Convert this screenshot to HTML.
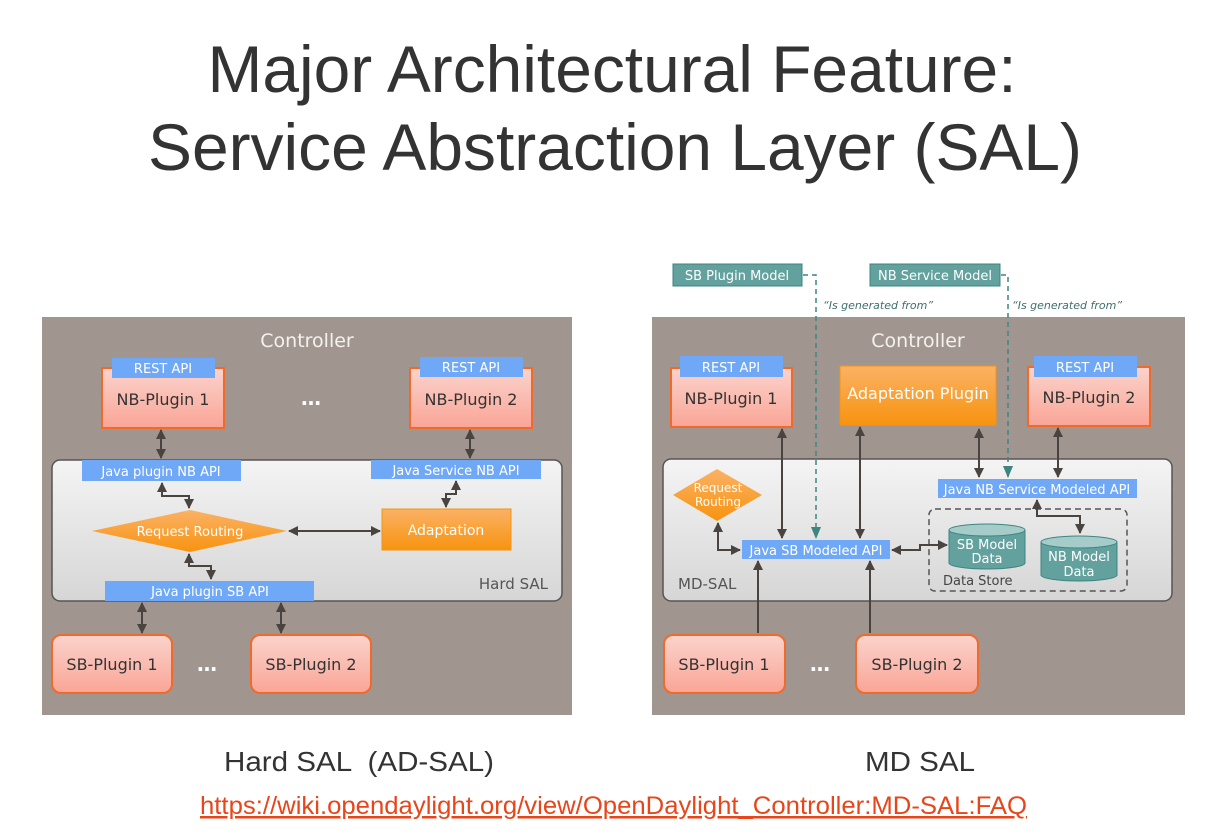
<!DOCTYPE html>
<html><head><meta charset="utf-8"><style>
html,body{margin:0;padding:0;background:#fff;}
svg{display:block;font-family:"Liberation Sans",sans-serif;}
.t{font-family:"DejaVu Sans","Liberation Sans",sans-serif;}
</style></head><body>
<svg width="1218" height="837" viewBox="0 0 1218 837" xmlns="http://www.w3.org/2000/svg">
<defs>
<linearGradient id="pink" x1="0" y1="0" x2="0" y2="1"><stop offset="0" stop-color="#fbd3cc"/><stop offset="1" stop-color="#f9a596"/></linearGradient>
<linearGradient id="org" x1="0" y1="0" x2="0" y2="1"><stop offset="0" stop-color="#fbb265"/><stop offset="1" stop-color="#f7930f"/></linearGradient>
<linearGradient id="sal" x1="0" y1="0" x2="0" y2="1"><stop offset="0" stop-color="#f4f4f4"/><stop offset="1" stop-color="#d6d6d6"/></linearGradient>
<marker id="ah" markerWidth="10" markerHeight="10" refX="9" refY="5" orient="auto-start-reverse" markerUnits="userSpaceOnUse"><path d="M0,0 L10,5 L0,10 z" fill="#4a4440"/></marker>
<marker id="th" markerWidth="12" markerHeight="10" refX="11" refY="5" orient="auto" markerUnits="userSpaceOnUse"><path d="M0,0 L12,5 L0,10 z" fill="#3e8580"/></marker>
</defs>

<text x="612" y="92" text-anchor="middle" font-size="66" fill="#333" textLength="809" lengthAdjust="spacingAndGlyphs">Major Architectural Feature:</text>
<text x="615" y="170" text-anchor="middle" font-size="66" fill="#333" textLength="934" lengthAdjust="spacingAndGlyphs">Service Abstraction Layer (SAL)</text>

<!-- LEFT PANEL -->
<rect x="42" y="317" width="530" height="398" fill="#a0968f"/>
<text class="t" x="307" y="347" text-anchor="middle" font-size="19" fill="#f4f1ee">Controller</text>
<rect x="52" y="460" width="510" height="141" rx="8" fill="url(#sal)" stroke="#555" stroke-width="1.5"/>
<g class="t" font-size="16">
<rect x="102" y="368" width="122" height="60" fill="url(#pink)" stroke="#f06a2b" stroke-width="2"/>
<rect x="112" y="358" width="103" height="20" fill="#6fa8f7"/>
<text x="163" y="373" text-anchor="middle" font-size="13" fill="#fff">REST API</text>
<text x="163" y="405" text-anchor="middle" fill="#333">NB-Plugin 1</text>
<rect x="410" y="368" width="122" height="60" fill="url(#pink)" stroke="#f06a2b" stroke-width="2"/>
<rect x="420" y="357" width="103" height="20" fill="#6fa8f7"/>
<text x="471" y="372" text-anchor="middle" font-size="13" fill="#fff">REST API</text>
<text x="471" y="405" text-anchor="middle" fill="#333">NB-Plugin 2</text>
<text x="311" y="405" text-anchor="middle" font-size="20" fill="#fff" font-weight="bold">…</text>

<rect x="82" y="460" width="159" height="21" fill="#6fa8f7"/>
<text x="161" y="476" text-anchor="middle" font-size="13" fill="#fff">Java plugin NB API</text>
<rect x="371" y="460" width="170" height="19" fill="#6fa8f7"/>
<text x="456" y="475" text-anchor="middle" font-size="13" fill="#fff">Java Service NB API</text>
<polygon points="92,531 190,510 287,531 190,552" fill="url(#org)"/>
<text x="190" y="536" text-anchor="middle" font-size="13" fill="#fff">Request Routing</text>
<rect x="382" y="509" width="129" height="41" fill="url(#org)" stroke="#f7930f"/>
<text x="446" y="535" text-anchor="middle" font-size="14" fill="#fff">Adaptation</text>
<text x="548" y="589" text-anchor="end" font-size="15" fill="#555">Hard SAL</text>
<rect x="105" y="581" width="209" height="20" fill="#6fa8f7"/>
<text x="210" y="596" text-anchor="middle" font-size="13" fill="#fff">Java plugin SB API</text>

<rect x="52" y="635" width="120" height="58" rx="9" fill="url(#pink)" stroke="#f06a2b" stroke-width="2"/>
<text x="112" y="670" text-anchor="middle" fill="#333">SB-Plugin 1</text>
<rect x="251" y="635" width="120" height="58" rx="9" fill="url(#pink)" stroke="#f06a2b" stroke-width="2"/>
<text x="311" y="670" text-anchor="middle" fill="#333">SB-Plugin 2</text>
<text x="207" y="671" text-anchor="middle" font-size="20" fill="#fff" font-weight="bold">…</text>
</g>
<g stroke="#4a4440" stroke-width="2" fill="none">
<line x1="161" y1="430" x2="161" y2="458" marker-start="url(#ah)" marker-end="url(#ah)"/>
<line x1="470" y1="430" x2="470" y2="458" marker-start="url(#ah)" marker-end="url(#ah)"/>
<line x1="142" y1="603" x2="142" y2="633" marker-start="url(#ah)" marker-end="url(#ah)"/>
<line x1="281" y1="603" x2="281" y2="633" marker-start="url(#ah)" marker-end="url(#ah)"/>
<polyline points="162,483 162,496 189,496 189,508" marker-start="url(#ah)" marker-end="url(#ah)"/>
<polyline points="189,554 189,566 211,566 211,579" marker-start="url(#ah)" marker-end="url(#ah)"/>
<line x1="289" y1="531" x2="380" y2="531" marker-start="url(#ah)" marker-end="url(#ah)"/>
<polyline points="456,481 456,494 446,494 446,507" marker-start="url(#ah)" marker-end="url(#ah)"/>
</g>

<!-- RIGHT PANEL -->
<rect x="652" y="317" width="533" height="398" fill="#a0968f"/>
<text class="t" x="918" y="347" text-anchor="middle" font-size="19" fill="#f4f1ee">Controller</text>
<rect x="663" y="459" width="509" height="142" rx="8" fill="url(#sal)" stroke="#555" stroke-width="1.5"/>
<g class="t" font-size="16">
<rect x="673" y="264" width="129" height="22" fill="#62a19d" stroke="#3e8580"/>
<text x="737" y="280" text-anchor="middle" font-size="13" fill="#fff">SB Plugin Model</text>
<rect x="870" y="264" width="130" height="22" fill="#62a19d" stroke="#3e8580"/>
<text x="935" y="280" text-anchor="middle" font-size="13" fill="#fff">NB Service Model</text>
<text x="823" y="309" font-size="11" font-style="italic" fill="#3e6f6c">“Is generated from”</text>
<text x="1012" y="309" font-size="11" font-style="italic" fill="#3e6f6c">“Is generated from”</text>

<rect x="671" y="368" width="121" height="59" fill="url(#pink)" stroke="#f06a2b" stroke-width="2"/>
<rect x="680" y="356" width="103" height="21" fill="#6fa8f7"/>
<text x="731" y="372" text-anchor="middle" font-size="13" fill="#fff">REST API</text>
<text x="731" y="404" text-anchor="middle" fill="#333">NB-Plugin 1</text>
<rect x="840" y="366" width="156" height="59" fill="url(#org)" stroke="#f7930f"/>
<text x="918" y="399" text-anchor="middle" fill="#fff">Adaptation Plugin</text>
<rect x="1028" y="367" width="122" height="59" fill="url(#pink)" stroke="#f06a2b" stroke-width="2"/>
<rect x="1034" y="356" width="103" height="21" fill="#6fa8f7"/>
<text x="1085" y="372" text-anchor="middle" font-size="13" fill="#fff">REST API</text>
<text x="1089" y="403" text-anchor="middle" fill="#333">NB-Plugin 2</text>

<rect x="938" y="479" width="199" height="19" fill="#6fa8f7"/>
<text x="1037" y="494" text-anchor="middle" font-size="13" fill="#fff">Java NB Service Modeled API</text>
<polygon points="673,495 717,469 762,495 717,521" fill="url(#org)"/>
<text x="718" y="492" text-anchor="middle" font-size="12" fill="#fff">Request</text>
<text x="718" y="506" text-anchor="middle" font-size="12" fill="#fff">Routing</text>
<rect x="742" y="540" width="148" height="19" fill="#6fa8f7"/>
<text x="816" y="555" text-anchor="middle" font-size="13" fill="#fff">Java SB Modeled API</text>
<text x="678" y="589" font-size="15" fill="#555">MD-SAL</text>

<rect x="929" y="509" width="198" height="82" rx="6" fill="none" stroke="#555" stroke-width="1.5" stroke-dasharray="6,4"/>
<path d="M949,530 L949,563 A38,6 0 0 0 1025,563 L1025,530" fill="#62a19d" stroke="#3e8580"/>
<ellipse cx="987" cy="530" rx="38" ry="6" fill="#a6ccc9" stroke="#3e8580"/>
<text x="987" y="549" text-anchor="middle" font-size="13" fill="#fff">SB Model</text>
<text x="987" y="563" text-anchor="middle" font-size="13" fill="#fff">Data</text>
<path d="M1041,542 L1041,575 A38,6 0 0 0 1117,575 L1117,542" fill="#62a19d" stroke="#3e8580"/>
<ellipse cx="1079" cy="542" rx="38" ry="6" fill="#a6ccc9" stroke="#3e8580"/>
<text x="1079" y="561" text-anchor="middle" font-size="13" fill="#fff">NB Model</text>
<text x="1079" y="576" text-anchor="middle" font-size="13" fill="#fff">Data</text>
<text x="943" y="585" font-size="13" fill="#444">Data Store</text>

<rect x="664" y="635" width="121" height="58" rx="9" fill="url(#pink)" stroke="#f06a2b" stroke-width="2"/>
<text x="724" y="670" text-anchor="middle" fill="#333">SB-Plugin 1</text>
<rect x="856" y="635" width="122" height="58" rx="9" fill="url(#pink)" stroke="#f06a2b" stroke-width="2"/>
<text x="917" y="670" text-anchor="middle" fill="#333">SB-Plugin 2</text>
<text x="820" y="671" text-anchor="middle" font-size="20" fill="#fff" font-weight="bold">…</text>
</g>
<g stroke="#3e8580" stroke-width="1.5" fill="none" stroke-dasharray="5,4">
<polyline points="803,275 816,275 816,538" marker-end="url(#th)"/>
<polyline points="1001,275 1008,275 1008,477" marker-end="url(#th)"/>
</g>
<g stroke="#4a4440" stroke-width="2" fill="none">
<line x1="782" y1="429" x2="782" y2="538" marker-start="url(#ah)" marker-end="url(#ah)"/>
<line x1="860" y1="427" x2="860" y2="538" marker-start="url(#ah)" marker-end="url(#ah)"/>
<line x1="979" y1="429" x2="979" y2="477" marker-start="url(#ah)" marker-end="url(#ah)"/>
<line x1="1058" y1="428" x2="1058" y2="477" marker-start="url(#ah)" marker-end="url(#ah)"/>
<line x1="758" y1="561" x2="758" y2="633" marker-start="url(#ah)"/>
<line x1="870" y1="561" x2="870" y2="633" marker-start="url(#ah)"/>
<polyline points="718,523 718,550 740,550" marker-start="url(#ah)" marker-end="url(#ah)"/>
<polyline points="892,550 920,550 920,545 947,545" marker-start="url(#ah)" marker-end="url(#ah)"/>
<polyline points="1037,500 1037,516 1080,516 1080,533" marker-start="url(#ah)" marker-end="url(#ah)"/>
</g>

<text x="224" y="771" font-size="28" fill="#333" textLength="270" lengthAdjust="spacingAndGlyphs" xml:space="preserve">Hard SAL  (AD-SAL)</text>
<text x="865" y="771" font-size="28" fill="#333" textLength="110" lengthAdjust="spacingAndGlyphs">MD SAL</text>
<text x="200" y="814" font-size="25" fill="#e8461a" text-decoration="underline" textLength="827" lengthAdjust="spacingAndGlyphs">https://wiki.opendaylight.org/view/OpenDaylight_Controller:MD-SAL:FAQ</text>
</svg>
</body></html>
